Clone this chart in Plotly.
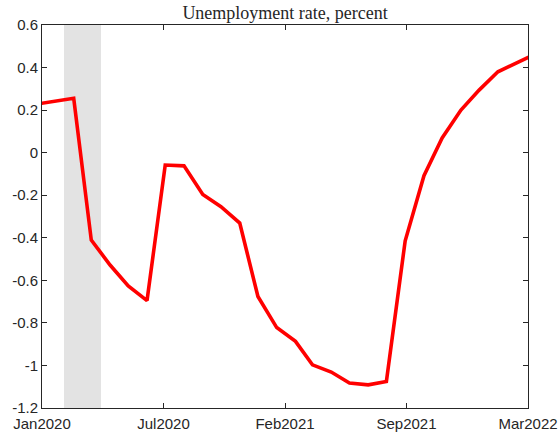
import pandas as pd
import plotly.graph_objects as go

# monthly observations (plotted mid-month)
months = pd.date_range("2019-12-01", "2022-03-01", freq="MS") + pd.Timedelta(days=14)
unemp = [0.228, 0.243, 0.256, -0.411, -0.528, -0.626, -0.695, -0.058, -0.062,
         -0.197, -0.254, -0.331, -0.676, -0.822, -0.887, -0.997, -1.031, -1.083,
         -1.091, -1.075, -0.414, -0.108, 0.069, 0.200, 0.294, 0.380, 0.424, 0.460]

# recession shading
rec_start = "2020-01-30"
rec_end = "2020-03-31"

x_start = pd.Timestamp("2019-12-24 16:00")
x_end = pd.Timestamp("2022-03-05 16:00")
x_ticktext = ["Jan2020", "Jul2020", "Feb2021", "Sep2021", "Mar2022"]
x_tickvals = [x_start + k * (x_end - x_start) / 4 for k in range(5)]

y_tickvals = [0.6, 0.4, 0.2, 0, -0.2, -0.4, -0.6, -0.8, -1, -1.2]
y_ticktext = ["0.6", "0.4", "0.2", "0", "-0.2", "-0.4", "-0.6", "-0.8", "-1", "-1.2"]

fig = go.Figure()
fig.add_vrect(x0=rec_start, x1=rec_end, fillcolor="#e3e3e3", line_width=0, layer="below")
fig.add_trace(go.Scatter(x=months, y=unemp, mode="lines",
                         line=dict(color="#ff0000", width=3.6)))

axis_style = dict(showline=True, linecolor="#262626", linewidth=1, mirror="ticks",
                  ticks="inside", ticklen=5, tickcolor="#262626", showgrid=False,
                  zeroline=False, automargin=False,
                  tickfont=dict(family="Liberation Sans, Arial", size=15, color="#262626"))

fig.update_layout(
    width=559, height=436,
    margin=dict(l=42, r=31, t=25, b=28),
    paper_bgcolor="white", plot_bgcolor="white",
    showlegend=False,
    title=dict(text="Unemployment rate, percent", x=0.51, xanchor="center",
               y=1 - 13 / 436, yanchor="middle",
               font=dict(family="Liberation Serif", size=18, color="#262626")),
    xaxis=dict(type="date", range=[x_start, x_end], tickvals=x_tickvals,
               ticktext=x_ticktext, ticklabelstandoff=2, **axis_style),
    yaxis=dict(range=[-1.2, 0.6], tickvals=y_tickvals, ticktext=y_ticktext, **axis_style),
)

# drop the default 8px body margin so the figure sits at the page corner
fig.write_html("out.html", config={"displayModeBar": False},
               post_script="document.body.style.margin = '0';")
